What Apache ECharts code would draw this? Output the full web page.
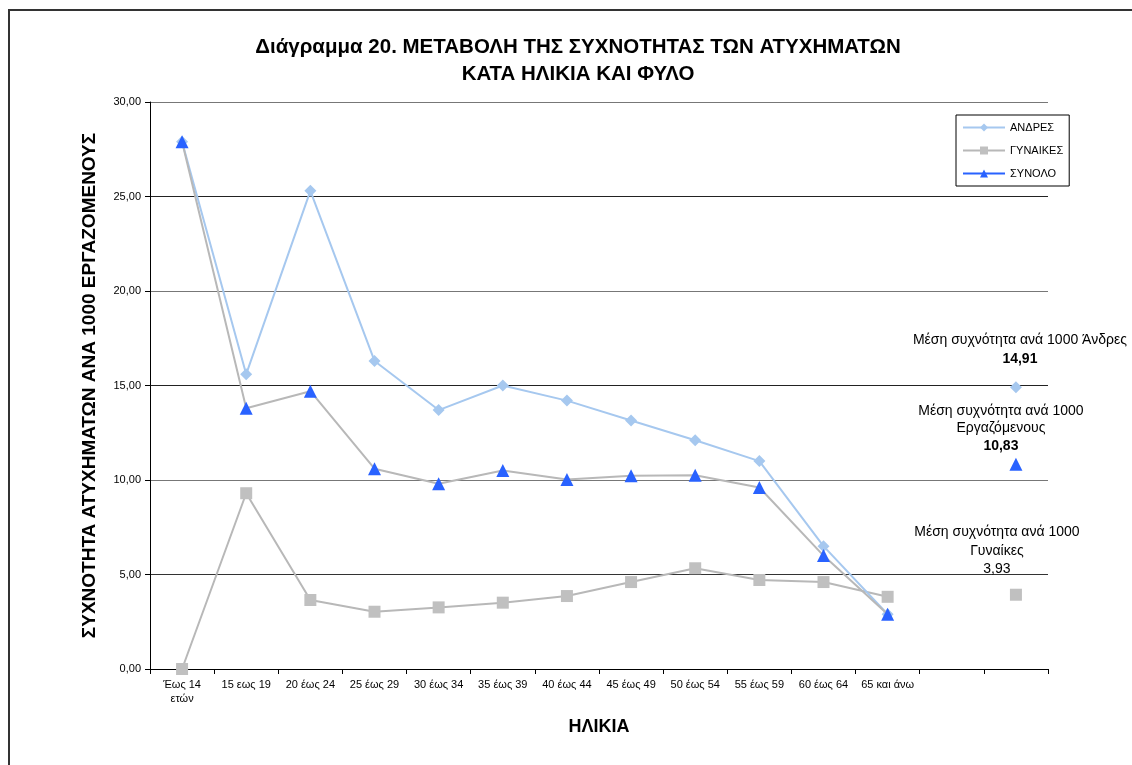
<!DOCTYPE html>
<html>
<head>
<meta charset="utf-8">
<title>Διάγραμμα 20</title>
<script src="https://cdn.jsdelivr.net/npm/echarts@6/dist/echarts.min.js"></script>
<style>
  html, body { margin: 0; padding: 0; background: #fff; }
  #chart { width: 1132px; height: 765px; }
</style>
</head>
<body>
<div id="chart"></div>
<script>
// age groups, plus two empty slots at the end (the last one holds the means)
const categories = ['Έως 14\nετών', '15 εως 19', '20 έως 24', '25 έως 29', '30 έως 34', '35 έως 39',
  '40 έως 44', '45 έως 49', '50 έως 54', '55 έως 59', '60 έως 64', '65 και άνω', '', ''];
const yTicks = { min: 0, max: 30, interval: 5 };

const andres = [27.9, 15.6, 25.3, 16.3, 13.7, 15.0, 14.2, 13.15, 12.1, 11.0, 6.5, 2.9];
const gynaikes = [0, 9.3, 3.65, 3.03, 3.26, 3.51, 3.86, 4.6, 5.33, 4.71, 4.6, 3.82];
const synolo = [27.9, 13.8, 14.7, 10.6, 9.8, 10.5, 10.03, 10.23, 10.25, 9.6, 6.0, 2.9];

const mesoAndres = 14.91;
const mesoGynaikes = 3.93;
const mesoSynolo = 10.83;

const fmt = (v) => v.toFixed(2).replace('.', ',');

// line values + gap + mean value with its label
function withMean(arr, mean, label) {
  const out = arr.slice();
  out.push(null);
  out.push({ value: mean, label: label });
  return out;
}

const FONT = 'Liberation Sans, Arial, sans-serif';
const myChart = echarts.init(document.getElementById('chart'));

const option = {
  animation: false,
  backgroundColor: '#fff',
  textStyle: { fontFamily: FONT },
  graphic: [{
    type: 'rect',
    shape: { x: 9, y: 10, width: 1200, height: 900 },
    style: { fill: 'none', stroke: '#333', lineWidth: 2 },
    silent: true,
  }],
  title: {
    text: 'Διάγραμμα 20. ΜΕΤΑΒΟΛΗ ΤΗΣ ΣΥΧΝΟΤΗΤΑΣ ΤΩΝ ΑΤΥΧΗΜΑΤΩΝ\nΚΑΤΑ ΗΛΙΚΙΑ ΚΑΙ ΦΥΛΟ',
    left: 573,
    top: 29,
    textAlign: 'center',
    textStyle: {
      fontFamily: FONT, fontSize: 20.5, fontWeight: 'bold', color: '#000', lineHeight: 27,
    },
  },
  legend: {
    orient: 'vertical',
    left: 956,
    top: 115,
    padding: [7, 6, 7, 6],
    borderColor: '#000',
    borderWidth: 1,
    itemWidth: 42,
    itemHeight: 10,
    itemGap: 12,
    textStyle: { fontFamily: FONT, fontSize: 11, color: '#000' },
    data: [
      { name: 'ΑΝΔΡΕΣ' },
      { name: 'ΓΥΝΑΙΚΕΣ' },
      { name: 'ΣΥΝΟΛΟ', lineStyle: { color: '#2962ff' } },
    ],
  },
  grid: {
    left: 150, right: 84, top: 102, bottom: 96,
  },
  xAxis: {
    type: 'category',
    data: categories,
    boundaryGap: true,
    name: 'ΗΛΙΚΙΑ',
    nameLocation: 'middle',
    nameGap: 49,
    nameTextStyle: { fontFamily: FONT, fontSize: 18, fontWeight: 'bold', color: '#000' },
    axisLine: { lineStyle: { color: '#000', width: 1 } },
    axisTick: { show: true, length: 5, lineStyle: { color: '#000' } },
    axisLabel: {
      interval: 0, color: '#000', fontSize: 11, fontFamily: FONT, margin: 9, lineHeight: 14,
    },
    splitLine: { show: false },
  },
  yAxis: {
    type: 'value',
    min: yTicks.min,
    max: yTicks.max,
    interval: yTicks.interval,
    name: 'ΣΥΧΝΟΤΗΤΑ ΑΤΥΧΗΜΑΤΩΝ ΑΝΑ 1000 ΕΡΓΑΖΟΜΕΝΟΥΣ',
    nameLocation: 'middle',
    nameRotate: 90,
    nameGap: 51,
    nameTextStyle: { fontFamily: FONT, fontSize: 19, fontWeight: 'bold', color: '#000' },
    axisLine: { show: true, lineStyle: { color: '#000' } },
    axisTick: { show: true, length: 5, lineStyle: { color: '#000' } },
    axisLabel: {
      color: '#000', fontSize: 11, fontFamily: FONT, margin: 9,
      formatter: (v) => fmt(v),
    },
    splitLine: { show: true, lineStyle: { color: ['#555', '#333', '#777', '#222', '#777', '#222', '#777'], width: 1 } },
  },
  series: [
    {
      name: 'ΑΝΔΡΕΣ',
      type: 'line',
      symbol: 'diamond',
      symbolSize: 12,
      connectNulls: false,
      itemStyle: { color: '#a6c8ef' },
      lineStyle: { color: '#a6c8ef', width: 2 },
      z: 2,
      data: withMean(andres, mesoAndres, {
        show: true,
        position: 'top',
        distance: 13,
        offset: [4, 0],
        formatter: '{t|Μέση συχνότητα ανά 1000 Άνδρες}\n{b|' + fmt(mesoAndres) + '}',
        rich: {
          t: { fontFamily: FONT, fontSize: 14, color: '#000', lineHeight: 19, align: 'center' },
          b: { fontFamily: FONT, fontSize: 14, fontWeight: 'bold', color: '#000', lineHeight: 19, align: 'center' },
        },
      }),
    },
    {
      name: 'ΓΥΝΑΙΚΕΣ',
      type: 'line',
      symbol: 'rect',
      symbolSize: 12,
      connectNulls: false,
      itemStyle: { color: '#c0c0c0' },
      lineStyle: { color: '#b8b8b8', width: 2 },
      z: 1,
      data: withMean(gynaikes, mesoGynaikes, {
        show: true,
        position: 'top',
        distance: 10,
        offset: [-19, 0],
        formatter: '{t|Μέση συχνότητα ανά 1000}\n{t|Γυναίκες}\n{t|' + fmt(mesoGynaikes) + '}',
        rich: {
          t: { fontFamily: FONT, fontSize: 14, color: '#000', lineHeight: 18.5, align: 'center' },
        },
      }),
    },
    {
      name: 'ΣΥΝΟΛΟ',
      type: 'line',
      symbol: 'triangle',
      symbolSize: 13,
      connectNulls: false,
      itemStyle: { color: '#2962ff' },
      lineStyle: { color: '#b8b8b8', width: 2 },
      z: 3,
      data: withMean(synolo, mesoSynolo, {
        show: true,
        position: 'top',
        distance: 3,
        offset: [-15, 0],
        formatter: '{t|Μέση συχνότητα ανά 1000}\n{t|Εργαζόμενους}\n{b|' + fmt(mesoSynolo) + '}',
        rich: {
          t: { fontFamily: FONT, fontSize: 14, color: '#000', lineHeight: 17.5, align: 'center' },
          b: { fontFamily: FONT, fontSize: 14, fontWeight: 'bold', color: '#000', lineHeight: 17.5, align: 'center' },
        },
      }),
    },
  ],
};

myChart.setOption(option);
</script>
</body>
</html>
